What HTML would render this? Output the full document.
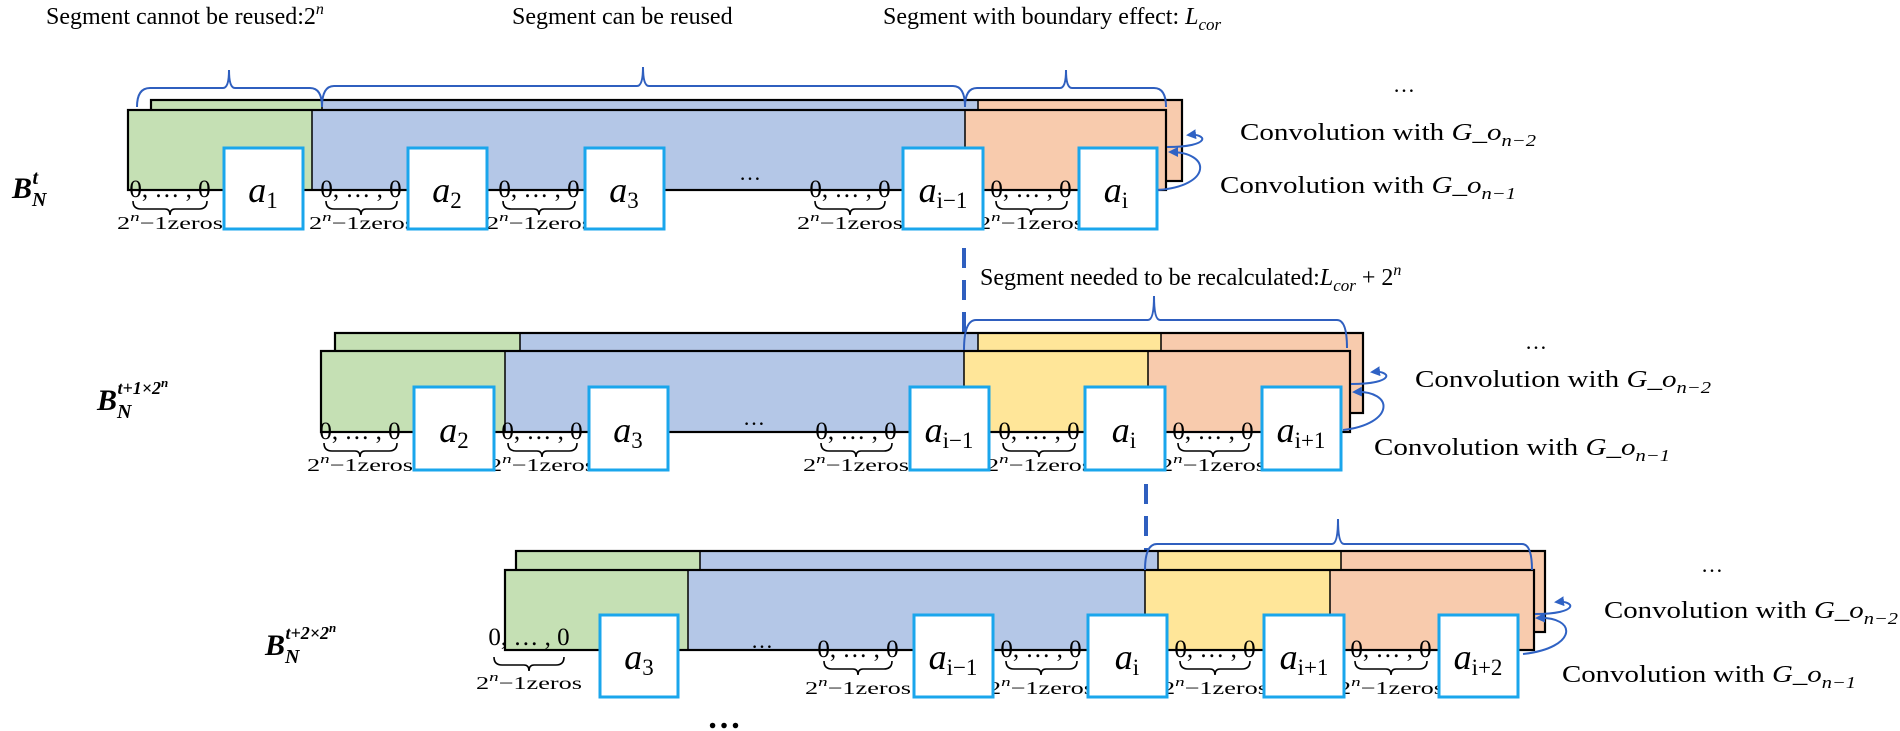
<!DOCTYPE html>
<html><head><meta charset="utf-8"><style>
html,body{margin:0;padding:0;background:#fff;}
svg{display:block;font-family:"Liberation Serif",serif;}
.z{font-size:25px;text-anchor:middle;}
.zl{font-size:18px;text-anchor:middle;}
.a{font-size:36px;font-style:italic;text-anchor:middle;}
.h{font-size:24px;}
.box{fill:#fff;stroke:#1aa6ec;stroke-width:3;}
.br{fill:none;stroke:#2f5fbf;stroke-width:2;}
.ub{fill:none;stroke:#000;stroke-width:1.6;}
.ol{fill:none;stroke:#000;stroke-width:2.2;}
.dv{stroke:#000;stroke-width:1.5;}
.ar{fill:none;stroke:#2f62c4;stroke-width:2;}
</style></head><body>
<svg width="1900" height="731" viewBox="0 0 1900 731" xmlns="http://www.w3.org/2000/svg">
<defs><marker id="m" markerWidth="10" markerHeight="10" refX="8" refY="5" orient="auto" markerUnits="userSpaceOnUse"><path d="M0,0 L10,5 L0,10 z" fill="#2f62c4"/></marker></defs>

<!-- headings -->
<text class="h" x="46" y="24">Segment cannot be reused:2<tspan font-size="16" font-style="italic" dy="-10">n</tspan></text>
<text class="h" x="512" y="24">Segment can be reused</text>
<text class="h" x="883" y="24">Segment with boundary effect: <tspan font-style="italic">L</tspan><tspan font-size="17" font-style="italic" dy="6">cor</tspan></text>
<text class="h" x="980" y="285">Segment needed to be recalculated:<tspan font-style="italic">L</tspan><tspan font-size="17" font-style="italic" dy="6">cor</tspan><tspan dy="-6"> +  2</tspan><tspan font-size="16" font-style="italic" dy="-10">n</tspan></text>

<!-- ROW 1 -->
<rect x="151" y="100" width="171" height="81" fill="#c5e0b4"/>
<rect x="322" y="100" width="656" height="81" fill="#b4c7e7"/>
<rect x="978" y="100" width="204" height="81" fill="#f8cbad"/>
<rect x="151" y="100" width="1031" height="81" class="ol"/>
<line x1="322" y1="100" x2="322" y2="110" class="dv"/><line x1="978" y1="100" x2="978" y2="110" class="dv"/>
<rect x="128" y="110" width="184" height="80" fill="#c5e0b4"/>
<rect x="312" y="110" width="653" height="80" fill="#b4c7e7"/>
<rect x="965" y="110" width="201" height="80" fill="#f8cbad"/>
<rect x="128" y="110" width="1038" height="80" class="ol"/>
<line x1="312" y1="110" x2="312" y2="190" class="dv"/><line x1="965" y1="110" x2="965" y2="190" class="dv"/>
<path class="br" d="M137,107 Q137,88 150,88 H223 Q229,88 229,70 Q229,88 235,88 H310 Q322,88 322,107"/>
<path class="br" d="M322,107 Q322,86 334,86 H637 Q643,86 643,67 Q643,86 649,86 H953 Q965,86 965,107"/>
<path class="br" d="M965,107 Q965,88 977,88 H1060 Q1066,88 1066,70 Q1066,88 1072,88 H1154 Q1166,88 1166,107"/>
<text x="750" y="180" font-size="22" text-anchor="middle">…</text>

<g>
<text class="z" x="170" y="197">0, … , 0</text><path class="ub" d="M133,201 q0,8 8,8 H165 q5,0 5,6 q0,-6 5,-6 H199 q8,0 8,-8"/>
<text class="zl" x="170" y="229" textLength="106" lengthAdjust="spacingAndGlyphs">2<tspan font-size="13" font-style="italic" dy="-8">n</tspan><tspan dy="8">−1zeros</tspan></text>
<text class="z" x="361" y="197">0, … , 0</text><path class="ub" d="M326,201 q0,8 8,8 H356 q5,0 5,6 q0,-6 5,-6 H389 q8,0 8,-8"/>
<text class="zl" x="362" y="229" textLength="106" lengthAdjust="spacingAndGlyphs">2<tspan font-size="13" font-style="italic" dy="-8">n</tspan><tspan dy="8">−1zeros</tspan></text>
<text class="z" x="539" y="197">0, … , 0</text><path class="ub" d="M503,201 q0,8 8,8 H534 q5,0 5,6 q0,-6 5,-6 H567 q8,0 8,-8"/>
<text class="zl" x="539" y="229" textLength="106" lengthAdjust="spacingAndGlyphs">2<tspan font-size="13" font-style="italic" dy="-8">n</tspan><tspan dy="8">−1zeros</tspan></text>
<text class="z" x="850" y="197">0, … , 0</text><path class="ub" d="M815,201 q0,8 8,8 H845 q5,0 5,6 q0,-6 5,-6 H877 q8,0 8,-8"/>
<text class="zl" x="850" y="229" textLength="106" lengthAdjust="spacingAndGlyphs">2<tspan font-size="13" font-style="italic" dy="-8">n</tspan><tspan dy="8">−1zeros</tspan></text>
<text class="z" x="1031" y="197">0, … , 0</text><path class="ub" d="M996,201 q0,8 8,8 H1026 q5,0 5,6 q0,-6 5,-6 H1059 q8,0 8,-8"/>
<text class="zl" x="1031" y="229" textLength="106" lengthAdjust="spacingAndGlyphs">2<tspan font-size="13" font-style="italic" dy="-8">n</tspan><tspan dy="8">−1zeros</tspan></text>
</g>
<rect class="box" x="224" y="148" width="79" height="81"/><text class="a" x="263" y="202">a<tspan font-size="23" font-style="normal" dy="6">1</tspan></text>
<rect class="box" x="408" y="148" width="79" height="81"/><text class="a" x="447" y="202">a<tspan font-size="23" font-style="normal" dy="6">2</tspan></text>
<rect class="box" x="585" y="148" width="79" height="81"/><text class="a" x="624" y="202">a<tspan font-size="23" font-style="normal" dy="6">3</tspan></text>
<rect class="box" x="903" y="148" width="80" height="81"/><text class="a" x="943" y="202">a<tspan font-size="23" font-style="normal" dy="6">i−1</tspan></text>
<rect class="box" x="1079" y="148" width="78" height="81"/><text class="a" x="1116" y="202">a<tspan font-size="23" font-style="normal" dy="6">i</tspan></text>

<text x="12" y="198" font-size="30" font-weight="bold" font-style="italic">B<tspan font-size="20" dy="8">N</tspan><tspan font-size="20" dx="-14" dy="-22">t</tspan></text>
<text x="1393" y="92" font-size="22">…</text>
<text class="h" x="1240" y="140" textLength="296" lengthAdjust="spacingAndGlyphs">Convolution with <tspan font-style="italic">G_o</tspan><tspan font-size="17" font-style="italic" dy="6">n−2</tspan></text>
<text class="h" x="1220" y="193" textLength="296" lengthAdjust="spacingAndGlyphs">Convolution with <tspan font-style="italic">G_o</tspan><tspan font-size="17" font-style="italic" dy="6">n−1</tspan></text>
<path class="ar" d="M1167,147 C1212,147 1208,133 1188,135" marker-end="url(#m)"/>
<path class="ar" d="M1158,190 C1212,186 1212,152 1170,152" marker-end="url(#m)"/>

<line x1="964" y1="248" x2="964" y2="352" stroke="#2f5fbf" stroke-width="4" stroke-dasharray="20,12"/>
<line x1="1146" y1="484" x2="1146" y2="570" stroke="#2f5fbf" stroke-width="4" stroke-dasharray="20,12"/>

<!-- ROW 2 -->
<rect x="335" y="333" width="185" height="80" fill="#c5e0b4"/>
<rect x="520" y="333" width="458" height="80" fill="#b4c7e7"/>
<rect x="978" y="333" width="183" height="80" fill="#ffe699"/>
<rect x="1161" y="333" width="202" height="80" fill="#f8cbad"/>
<rect x="335" y="333" width="1028" height="80" class="ol"/>
<line x1="520" y1="333" x2="520" y2="351" class="dv"/><line x1="978" y1="333" x2="978" y2="351" class="dv"/><line x1="1161" y1="333" x2="1161" y2="351" class="dv"/>
<rect x="321" y="351" width="184" height="81" fill="#c5e0b4"/>
<rect x="505" y="351" width="459" height="81" fill="#b4c7e7"/>
<rect x="964" y="351" width="184" height="81" fill="#ffe699"/>
<rect x="1148" y="351" width="202" height="81" fill="#f8cbad"/>
<rect x="321" y="351" width="1029" height="81" class="ol"/>
<line x1="505" y1="351" x2="505" y2="432" class="dv"/><line x1="964" y1="351" x2="964" y2="432" class="dv"/><line x1="1148" y1="351" x2="1148" y2="432" class="dv"/>
<path class="br" d="M964,350 Q964,320 976,320 H1148 Q1154,320 1154,296 Q1154,320 1160,320 H1337 Q1347,320 1347,348"/>
<text x="754" y="425" font-size="22" text-anchor="middle">…</text>
<g>
<text class="z" x="360" y="439">0, … , 0</text><path class="ub" d="M324,443 q0,8 8,8 H355 q5,0 5,6 q0,-6 5,-6 H389 q8,0 8,-8"/>
<text class="zl" x="360" y="471" textLength="106" lengthAdjust="spacingAndGlyphs">2<tspan font-size="13" font-style="italic" dy="-8">n</tspan><tspan dy="8">−1zeros</tspan></text>
<text class="z" x="542" y="439">0, … , 0</text><path class="ub" d="M508,443 q0,8 8,8 H537 q5,0 5,6 q0,-6 5,-6 H569 q8,0 8,-8"/>
<text class="zl" x="542" y="471" textLength="106" lengthAdjust="spacingAndGlyphs">2<tspan font-size="13" font-style="italic" dy="-8">n</tspan><tspan dy="8">−1zeros</tspan></text>
<text class="z" x="856" y="439">0, … , 0</text><path class="ub" d="M821,443 q0,8 8,8 H851 q5,0 5,6 q0,-6 5,-6 H884 q8,0 8,-8"/>
<text class="zl" x="856" y="471" textLength="106" lengthAdjust="spacingAndGlyphs">2<tspan font-size="13" font-style="italic" dy="-8">n</tspan><tspan dy="8">−1zeros</tspan></text>
<text class="z" x="1039" y="439">0, … , 0</text><path class="ub" d="M1003,443 q0,8 8,8 H1034 q5,0 5,6 q0,-6 5,-6 H1067 q8,0 8,-8"/>
<text class="zl" x="1039" y="471" textLength="106" lengthAdjust="spacingAndGlyphs">2<tspan font-size="13" font-style="italic" dy="-8">n</tspan><tspan dy="8">−1zeros</tspan></text>
<text class="z" x="1213" y="439">0, … , 0</text><path class="ub" d="M1178,443 q0,8 8,8 H1208 q5,0 5,6 q0,-6 5,-6 H1241 q8,0 8,-8"/>
<text class="zl" x="1213" y="471" textLength="106" lengthAdjust="spacingAndGlyphs">2<tspan font-size="13" font-style="italic" dy="-8">n</tspan><tspan dy="8">−1zeros</tspan></text>
</g>
<rect class="box" x="414" y="387" width="80" height="83"/><text class="a" x="454" y="442">a<tspan font-size="23" font-style="normal" dy="6">2</tspan></text>
<rect class="box" x="589" y="387" width="79" height="83"/><text class="a" x="628" y="442">a<tspan font-size="23" font-style="normal" dy="6">3</tspan></text>
<rect class="box" x="910" y="387" width="79" height="83"/><text class="a" x="949" y="442">a<tspan font-size="23" font-style="normal" dy="6">i−1</tspan></text>
<rect class="box" x="1085" y="387" width="80" height="83"/><text class="a" x="1124" y="442">a<tspan font-size="23" font-style="normal" dy="6">i</tspan></text>
<rect class="box" x="1262" y="387" width="79" height="83"/><text class="a" x="1301" y="442">a<tspan font-size="23" font-style="normal" dy="6">i+1</tspan></text>
<text x="97" y="410" font-size="30" font-weight="bold" font-style="italic">B<tspan font-size="20" dy="8">N</tspan><tspan font-size="18" dx="-14" dy="-24">t+1×2</tspan><tspan font-size="13" dy="-7">n</tspan></text>
<text x="1525" y="349" font-size="22">…</text>
<text class="h" x="1415" y="387" textLength="296" lengthAdjust="spacingAndGlyphs">Convolution with <tspan font-style="italic">G_o</tspan><tspan font-size="17" font-style="italic" dy="6">n−2</tspan></text>
<text class="h" x="1374" y="455" textLength="296" lengthAdjust="spacingAndGlyphs">Convolution with <tspan font-style="italic">G_o</tspan><tspan font-size="17" font-style="italic" dy="6">n−1</tspan></text>
<path class="ar" d="M1351,384 C1396,384 1392,370 1372,372" marker-end="url(#m)"/>
<path class="ar" d="M1343,430 C1395,424 1395,390 1354,392" marker-end="url(#m)"/>

<!-- ROW 3 -->
<rect x="516" y="551" width="184" height="81" fill="#c5e0b4"/>
<rect x="700" y="551" width="458" height="81" fill="#b4c7e7"/>
<rect x="1158" y="551" width="183" height="81" fill="#ffe699"/>
<rect x="1341" y="551" width="204" height="81" fill="#f8cbad"/>
<rect x="516" y="551" width="1029" height="81" class="ol"/>
<line x1="700" y1="551" x2="700" y2="570" class="dv"/><line x1="1158" y1="551" x2="1158" y2="570" class="dv"/><line x1="1341" y1="551" x2="1341" y2="570" class="dv"/>
<rect x="505" y="570" width="183" height="80" fill="#c5e0b4"/>
<rect x="688" y="570" width="457" height="80" fill="#b4c7e7"/>
<rect x="1145" y="570" width="185" height="80" fill="#ffe699"/>
<rect x="1330" y="570" width="204" height="80" fill="#f8cbad"/>
<rect x="505" y="570" width="1029" height="80" class="ol"/>
<line x1="688" y1="570" x2="688" y2="650" class="dv"/><line x1="1145" y1="570" x2="1145" y2="650" class="dv"/><line x1="1330" y1="570" x2="1330" y2="650" class="dv"/>
<path class="br" d="M1145,570 Q1145,544 1157,544 H1332 Q1338,544 1338,519 Q1338,544 1344,544 H1522 Q1532,544 1532,570"/>
<text x="762" y="648" font-size="22" text-anchor="middle">…</text>
<g>
<text class="z" x="529" y="645">0, … , 0</text><path class="ub" d="M494,657 q0,8 8,8 H524 q5,0 5,6 q0,-6 5,-6 H556 q8,0 8,-8"/>
<text class="zl" x="529" y="689" textLength="106" lengthAdjust="spacingAndGlyphs">2<tspan font-size="13" font-style="italic" dy="-8">n</tspan><tspan dy="8">−1zeros</tspan></text>
<text class="z" x="858" y="657">0, … , 0</text><path class="ub" d="M824,661 q0,8 8,8 H853 q5,0 5,6 q0,-6 5,-6 H884 q8,0 8,-8"/>
<text class="zl" x="858" y="694" textLength="106" lengthAdjust="spacingAndGlyphs">2<tspan font-size="13" font-style="italic" dy="-8">n</tspan><tspan dy="8">−1zeros</tspan></text>
<text class="z" x="1041" y="657">0, … , 0</text><path class="ub" d="M1006,661 q0,8 8,8 H1036 q5,0 5,6 q0,-6 5,-6 H1069 q8,0 8,-8"/>
<text class="zl" x="1041" y="694" textLength="106" lengthAdjust="spacingAndGlyphs">2<tspan font-size="13" font-style="italic" dy="-8">n</tspan><tspan dy="8">−1zeros</tspan></text>
<text class="z" x="1215" y="657">0, … , 0</text><path class="ub" d="M1180,661 q0,8 8,8 H1210 q5,0 5,6 q0,-6 5,-6 H1242 q8,0 8,-8"/>
<text class="zl" x="1215" y="694" textLength="106" lengthAdjust="spacingAndGlyphs">2<tspan font-size="13" font-style="italic" dy="-8">n</tspan><tspan dy="8">−1zeros</tspan></text>
<text class="z" x="1391" y="657">0, … , 0</text><path class="ub" d="M1355,661 q0,8 8,8 H1386 q5,0 5,6 q0,-6 5,-6 H1419 q8,0 8,-8"/>
<text class="zl" x="1391" y="694" textLength="106" lengthAdjust="spacingAndGlyphs">2<tspan font-size="13" font-style="italic" dy="-8">n</tspan><tspan dy="8">−1zeros</tspan></text>
</g>
<rect class="box" x="600" y="615" width="78" height="82"/><text class="a" x="639" y="669">a<tspan font-size="23" font-style="normal" dy="6">3</tspan></text>
<rect class="box" x="914" y="615" width="79" height="82"/><text class="a" x="953" y="669">a<tspan font-size="23" font-style="normal" dy="6">i−1</tspan></text>
<rect class="box" x="1088" y="615" width="79" height="82"/><text class="a" x="1127" y="669">a<tspan font-size="23" font-style="normal" dy="6">i</tspan></text>
<rect class="box" x="1264" y="615" width="80" height="82"/><text class="a" x="1304" y="669">a<tspan font-size="23" font-style="normal" dy="6">i+1</tspan></text>
<rect class="box" x="1439" y="615" width="79" height="82"/><text class="a" x="1478" y="669">a<tspan font-size="23" font-style="normal" dy="6">i+2</tspan></text>
<text x="265" y="655" font-size="30" font-weight="bold" font-style="italic">B<tspan font-size="20" dy="8">N</tspan><tspan font-size="18" dx="-14" dy="-24">t+2×2</tspan><tspan font-size="13" dy="-7">n</tspan></text>
<text x="1701" y="572" font-size="22">…</text>
<text class="h" x="1604" y="618" textLength="294" lengthAdjust="spacingAndGlyphs">Convolution with <tspan font-style="italic">G_o</tspan><tspan font-size="17" font-style="italic" dy="6">n−2</tspan></text>
<text class="h" x="1562" y="682" textLength="294" lengthAdjust="spacingAndGlyphs">Convolution with <tspan font-style="italic">G_o</tspan><tspan font-size="17" font-style="italic" dy="6">n−1</tspan></text>
<path class="ar" d="M1535,614 C1580,614 1576,600 1556,602" marker-end="url(#m)"/>
<path class="ar" d="M1523,654 C1578,648 1578,616 1537,618" marker-end="url(#m)"/>
<text x="724" y="728" font-size="34" font-weight="bold" text-anchor="middle">…</text>
</svg>
</body></html>
